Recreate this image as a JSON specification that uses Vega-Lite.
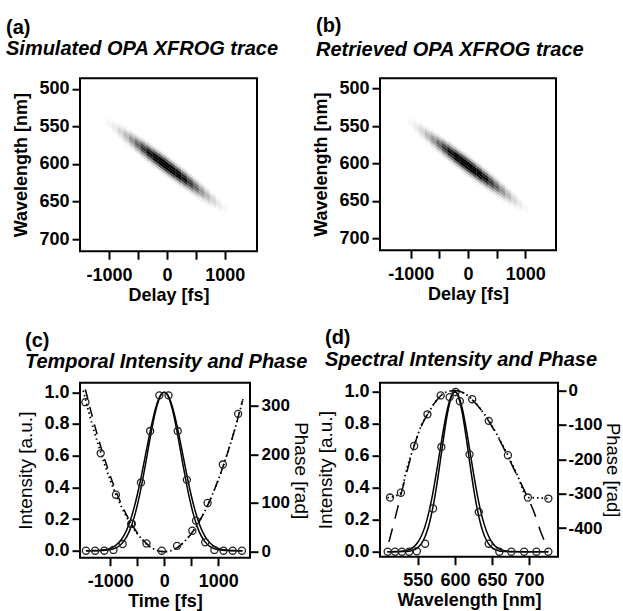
{
"$schema": "https://vega.github.io/schema/vega-lite/v6.json",
"background": "white",
"padding": {"left": 5, "top": 14.2, "right": 0, "bottom": 0},
"columns": 2,
"bounds": "flush",
"align": "all",
"spacing": {"row": 129.5, "column": 122},
"config": {
 "font": "Liberation Sans",
 "view": {"stroke": "black", "strokeWidth": 2},
 "axis": {"domain": false, "grid": false, "tickColor": "black", "tickWidth": 2, "tickSize": 8, "labelFont": "Liberation Sans", "labelFontSize": 18, "labelFontWeight": "bold", "labelColor": "black", "labelPadding": 3, "labelOverlap": false, "labelFlush": false, "labelBound": false, "titleFont": "Liberation Sans", "titleFontSize": 18, "titleFontWeight": "bold", "titleColor": "black"},
 "axisY": {"labelOverlap": false},
 "axisLeft": {"labelOverlap": false},
 "title": {"font": "Liberation Sans", "fontSize": 20, "fontWeight": "bold", "color": "black", "subtitleFont": "Liberation Sans", "subtitleFontSize": 20, "subtitleFontWeight": "bold", "subtitleFontStyle": "italic", "subtitleColor": "black", "anchor": "start", "frame": "group"}
},
"datasets": {
 "trace": [
  {"t":-1100,"w":540.3,"v":0.021},
  {"t":-1000,"w":539,"v":0.020},{"t":-1000,"w":542.5,"v":0.034},{"t":-1000,"w":546,"v":0.041},{"t":-1000,"w":549.5,"v":0.034},{"t":-1000,"w":553,"v":0.020},
  {"t":-900,"w":544.7,"v":0.036},{"t":-900,"w":548.2,"v":0.063},{"t":-900,"w":551.7,"v":0.076},{"t":-900,"w":555.2,"v":0.063},{"t":-900,"w":558.7,"v":0.036},
  {"t":-800,"w":546.9,"v":0.025},{"t":-800,"w":550.4,"v":0.062},{"t":-800,"w":553.9,"v":0.108},{"t":-800,"w":557.4,"v":0.130},{"t":-800,"w":560.9,"v":0.108},{"t":-800,"w":564.4,"v":0.062},{"t":-800,"w":567.9,"v":0.025},
  {"t":-700,"w":552.6,"v":0.040},{"t":-700,"w":556.1,"v":0.101},{"t":-700,"w":559.6,"v":0.175},{"t":-700,"w":563.1,"v":0.210},{"t":-700,"w":566.6,"v":0.175},{"t":-700,"w":570.1,"v":0.101},{"t":-700,"w":573.6,"v":0.040},
  {"t":-600,"w":558.3,"v":0.061},{"t":-600,"w":561.8,"v":0.152},{"t":-600,"w":565.3,"v":0.264},{"t":-600,"w":568.8,"v":0.317},{"t":-600,"w":572.3,"v":0.264},{"t":-600,"w":575.8,"v":0.152},{"t":-600,"w":579.3,"v":0.061},
  {"t":-500,"w":560.5,"v":0.024},{"t":-500,"w":564,"v":0.086},{"t":-500,"w":567.5,"v":0.216},{"t":-500,"w":571,"v":0.375},{"t":-500,"w":574.5,"v":0.451},{"t":-500,"w":578,"v":0.375},{"t":-500,"w":581.5,"v":0.216},{"t":-500,"w":585,"v":0.086},{"t":-500,"w":588.5,"v":0.024},
  {"t":-400,"w":566.2,"v":0.032},{"t":-400,"w":569.7,"v":0.115},{"t":-400,"w":573.2,"v":0.288},{"t":-400,"w":576.7,"v":0.499},{"t":-400,"w":580.2,"v":0.600},{"t":-400,"w":583.7,"v":0.499},{"t":-400,"w":587.2,"v":0.288},{"t":-400,"w":590.7,"v":0.115},{"t":-400,"w":594.2,"v":0.032},
  {"t":-300,"w":571.9,"v":0.040},{"t":-300,"w":575.4,"v":0.143},{"t":-300,"w":578.9,"v":0.360},{"t":-300,"w":582.4,"v":0.625},{"t":-300,"w":585.9,"v":0.751},{"t":-300,"w":589.4,"v":0.625},{"t":-300,"w":592.9,"v":0.360},{"t":-300,"w":596.4,"v":0.143},{"t":-300,"w":599.9,"v":0.040},
  {"t":-200,"w":577.6,"v":0.047},{"t":-200,"w":581.1,"v":0.168},{"t":-200,"w":584.6,"v":0.422},{"t":-200,"w":588.1,"v":0.732},{"t":-200,"w":591.6,"v":0.880},{"t":-200,"w":595.1,"v":0.732},{"t":-200,"w":598.6,"v":0.422},{"t":-200,"w":602.1,"v":0.168},{"t":-200,"w":605.6,"v":0.047},
  {"t":-100,"w":583.3,"v":0.051},{"t":-100,"w":586.8,"v":0.185},{"t":-100,"w":590.3,"v":0.465},{"t":-100,"w":593.8,"v":0.806},{"t":-100,"w":597.3,"v":0.969},{"t":-100,"w":600.8,"v":0.806},{"t":-100,"w":604.3,"v":0.465},{"t":-100,"w":607.8,"v":0.185},{"t":-100,"w":611.3,"v":0.051},
  {"t":0,"w":589,"v":0.053},{"t":0,"w":592.5,"v":0.191},{"t":0,"w":596,"v":0.480},{"t":0,"w":599.5,"v":0.832},{"t":0,"w":603,"v":1},{"t":0,"w":606.5,"v":0.832},{"t":0,"w":610,"v":0.480},{"t":0,"w":613.5,"v":0.191},{"t":0,"w":617,"v":0.053},
  {"t":100,"w":594.7,"v":0.051},{"t":100,"w":598.2,"v":0.185},{"t":100,"w":601.7,"v":0.465},{"t":100,"w":605.2,"v":0.806},{"t":100,"w":608.7,"v":0.969},{"t":100,"w":612.2,"v":0.806},{"t":100,"w":615.7,"v":0.465},{"t":100,"w":619.2,"v":0.185},{"t":100,"w":622.7,"v":0.051},
  {"t":200,"w":600.4,"v":0.047},{"t":200,"w":603.9,"v":0.168},{"t":200,"w":607.4,"v":0.422},{"t":200,"w":610.9,"v":0.732},{"t":200,"w":614.4,"v":0.880},{"t":200,"w":617.9,"v":0.732},{"t":200,"w":621.4,"v":0.422},{"t":200,"w":624.9,"v":0.168},{"t":200,"w":628.4,"v":0.047},
  {"t":300,"w":606.1,"v":0.040},{"t":300,"w":609.6,"v":0.143},{"t":300,"w":613.1,"v":0.360},{"t":300,"w":616.6,"v":0.625},{"t":300,"w":620.1,"v":0.751},{"t":300,"w":623.6,"v":0.625},{"t":300,"w":627.1,"v":0.360},{"t":300,"w":630.6,"v":0.143},{"t":300,"w":634.1,"v":0.040},
  {"t":400,"w":611.8,"v":0.032},{"t":400,"w":615.3,"v":0.115},{"t":400,"w":618.8,"v":0.288},{"t":400,"w":622.3,"v":0.499},{"t":400,"w":625.8,"v":0.600},{"t":400,"w":629.3,"v":0.499},{"t":400,"w":632.8,"v":0.288},{"t":400,"w":636.3,"v":0.115},{"t":400,"w":639.8,"v":0.032},
  {"t":500,"w":617.5,"v":0.024},{"t":500,"w":621,"v":0.086},{"t":500,"w":624.5,"v":0.216},{"t":500,"w":628,"v":0.375},{"t":500,"w":631.5,"v":0.451},{"t":500,"w":635,"v":0.375},{"t":500,"w":638.5,"v":0.216},{"t":500,"w":642,"v":0.086},{"t":500,"w":645.5,"v":0.024},
  {"t":600,"w":626.7,"v":0.061},{"t":600,"w":630.2,"v":0.152},{"t":600,"w":633.7,"v":0.264},{"t":600,"w":637.2,"v":0.317},{"t":600,"w":640.7,"v":0.264},{"t":600,"w":644.2,"v":0.152},{"t":600,"w":647.7,"v":0.061},
  {"t":700,"w":632.4,"v":0.040},{"t":700,"w":635.9,"v":0.101},{"t":700,"w":639.4,"v":0.175},{"t":700,"w":642.9,"v":0.210},{"t":700,"w":646.4,"v":0.175},{"t":700,"w":649.9,"v":0.101},{"t":700,"w":653.4,"v":0.040},
  {"t":800,"w":638.1,"v":0.025},{"t":800,"w":641.6,"v":0.062},{"t":800,"w":645.1,"v":0.108},{"t":800,"w":648.6,"v":0.130},{"t":800,"w":652.1,"v":0.108},{"t":800,"w":655.6,"v":0.062},{"t":800,"w":659.1,"v":0.025},
  {"t":900,"w":647.3,"v":0.036},{"t":900,"w":650.8,"v":0.063},{"t":900,"w":654.3,"v":0.076},{"t":900,"w":657.8,"v":0.063},{"t":900,"w":661.3,"v":0.036},
  {"t":1000,"w":653,"v":0.020},{"t":1000,"w":656.5,"v":0.034},{"t":1000,"w":660,"v":0.041},{"t":1000,"w":663.5,"v":0.034},{"t":1000,"w":667,"v":0.020},
  {"t":1100,"w":665.7,"v":0.021}
 ],
 "c_int": [
  {"s":"sim","t":-1450,"I":0},{"s":"sim","t":-1350,"I":0.0001},{"s":"sim","t":-1250,"I":0.0004},{"s":"sim","t":-1150,"I":0.0013},{"s":"sim","t":-1050,"I":0.0039},{"s":"sim","t":-950,"I":0.0106},{"s":"sim","t":-850,"I":0.0262},{"s":"sim","t":-750,"I":0.0588},{"s":"sim","t":-650,"I":0.119},{"s":"sim","t":-550,"I":0.218},{"s":"sim","t":-450,"I":0.360},{"s":"sim","t":-350,"I":0.539},{"s":"sim","t":-250,"I":0.730},{"s":"sim","t":-150,"I":0.893},{"s":"sim","t":-50,"I":0.9875},{"s":"sim","t":0,"I":1},{"s":"sim","t":50,"I":0.9875},{"s":"sim","t":150,"I":0.893},{"s":"sim","t":250,"I":0.730},{"s":"sim","t":350,"I":0.539},{"s":"sim","t":450,"I":0.360},{"s":"sim","t":550,"I":0.218},{"s":"sim","t":650,"I":0.119},{"s":"sim","t":750,"I":0.0588},{"s":"sim","t":850,"I":0.0262},{"s":"sim","t":950,"I":0.0106},{"s":"sim","t":1050,"I":0.0039},{"s":"sim","t":1150,"I":0.0013},{"s":"sim","t":1250,"I":0.0004},{"s":"sim","t":1350,"I":0.0001},{"s":"sim","t":1450,"I":0},
  {"s":"ret","t":-1450,"I":0.0001},{"s":"ret","t":-1350,"I":0.0005},{"s":"ret","t":-1250,"I":0.0014},{"s":"ret","t":-1150,"I":0.0039},{"s":"ret","t":-1050,"I":0.0097},{"s":"ret","t":-950,"I":0.0226},{"s":"ret","t":-850,"I":0.048},{"s":"ret","t":-750,"I":0.094},{"s":"ret","t":-650,"I":0.169},{"s":"ret","t":-550,"I":0.281},{"s":"ret","t":-450,"I":0.427},{"s":"ret","t":-350,"I":0.598},{"s":"ret","t":-250,"I":0.769},{"s":"ret","t":-150,"I":0.910},{"s":"ret","t":-50,"I":0.9896},{"s":"ret","t":0,"I":1},{"s":"ret","t":50,"I":0.9896},{"s":"ret","t":150,"I":0.910},{"s":"ret","t":250,"I":0.769},{"s":"ret","t":350,"I":0.598},{"s":"ret","t":450,"I":0.427},{"s":"ret","t":550,"I":0.281},{"s":"ret","t":650,"I":0.169},{"s":"ret","t":750,"I":0.094},{"s":"ret","t":850,"I":0.048},{"s":"ret","t":950,"I":0.0226},{"s":"ret","t":1050,"I":0.0097},{"s":"ret","t":1150,"I":0.0039},{"s":"ret","t":1250,"I":0.0014},{"s":"ret","t":1350,"I":0.0005},{"s":"ret","t":1450,"I":0.0001}
 ],
 "c_int_pts": [
  {"t":-1450,"I":0},{"t":-1280,"I":0},{"t":-1110,"I":0},{"t":-940,"I":0.005},{"t":-770,"I":0.042},{"t":-600,"I":0.17},{"t":-430,"I":0.43},{"t":-260,"I":0.755},{"t":-90,"I":0.98},{"t":80,"I":0.98},{"t":250,"I":0.755},{"t":420,"I":0.447},{"t":590,"I":0.19},{"t":760,"I":0.053},{"t":930,"I":0.005},{"t":1100,"I":0},{"t":1270,"I":0},{"t":1440,"I":0}
 ],
 "c_ph_sim": [
  {"t":-1500,"p":331},{"t":-1400,"p":288},{"t":-1300,"p":248},{"t":-1200,"p":212},{"t":-1100,"p":178},{"t":-1000,"p":147},{"t":-900,"p":119},{"t":-800,"p":94},{"t":-700,"p":72},{"t":-600,"p":53},{"t":-500,"p":37},{"t":-400,"p":24},{"t":-300,"p":13},{"t":-200,"p":6},{"t":-100,"p":1.5},{"t":0,"p":0},{"t":100,"p":1.5},{"t":200,"p":6},{"t":300,"p":13},{"t":400,"p":24},{"t":500,"p":37},{"t":600,"p":53},{"t":700,"p":72},{"t":800,"p":94},{"t":900,"p":119},{"t":1000,"p":147},{"t":1100,"p":178},{"t":1200,"p":212},{"t":1300,"p":248},{"t":1400,"p":288},{"t":1460,"p":313}
 ],
 "c_ph_ret": [
  {"t":-1460,"p":333},{"t":-1300,"p":264},{"t":-1100,"p":189},{"t":-900,"p":126},{"t":-700,"p":76},{"t":-500,"p":39},{"t":-300,"p":14},{"t":-100,"p":1.6},{"t":0,"p":0},{"t":100,"p":1.5},{"t":300,"p":13},{"t":500,"p":37},{"t":700,"p":72},{"t":900,"p":119},{"t":1100,"p":178},{"t":1300,"p":248},{"t":1450,"p":310}
 ],
 "c_ph_pts": [
  {"t":-1460,"p":307},{"t":-1177,"p":202},{"t":-894,"p":117},{"t":-611,"p":57},{"t":-328,"p":17},{"t":-45,"p":2},{"t":238,"p":12},{"t":521,"p":43},{"t":804,"p":100},{"t":1087,"p":179},{"t":1370,"p":283}
 ],
 "d_int": [
  {"s":"sim","l":509,"I":0},{"s":"sim","l":520,"I":0},{"s":"sim","l":530,"I":0.0008},{"s":"sim","l":535,"I":0.0021},{"s":"sim","l":540,"I":0.0052},{"s":"sim","l":545,"I":0.012},{"s":"sim","l":550,"I":0.026},{"s":"sim","l":555,"I":0.052},{"s":"sim","l":560,"I":0.097},{"s":"sim","l":565,"I":0.167},{"s":"sim","l":570,"I":0.269},{"s":"sim","l":575,"I":0.401},{"s":"sim","l":580,"I":0.557},{"s":"sim","l":585,"I":0.720},{"s":"sim","l":590,"I":0.864},{"s":"sim","l":595,"I":0.964},{"s":"sim","l":600,"I":1},{"s":"sim","l":605,"I":0.964},{"s":"sim","l":610,"I":0.864},{"s":"sim","l":615,"I":0.720},{"s":"sim","l":620,"I":0.557},{"s":"sim","l":625,"I":0.401},{"s":"sim","l":630,"I":0.269},{"s":"sim","l":635,"I":0.167},{"s":"sim","l":640,"I":0.097},{"s":"sim","l":645,"I":0.052},{"s":"sim","l":650,"I":0.026},{"s":"sim","l":655,"I":0.012},{"s":"sim","l":660,"I":0.0052},{"s":"sim","l":665,"I":0.0021},{"s":"sim","l":670,"I":0.0008},{"s":"sim","l":680,"I":0},{"s":"sim","l":726,"I":0},
  {"s":"ret","l":509,"I":0},{"s":"ret","l":515,"I":0.0001},{"s":"ret","l":520,"I":0.0007},{"s":"ret","l":525,"I":0.0017},{"s":"ret","l":530,"I":0.0039},{"s":"ret","l":535,"I":0.0083},{"s":"ret","l":540,"I":0.017},{"s":"ret","l":545,"I":0.032},{"s":"ret","l":550,"I":0.059},{"s":"ret","l":555,"I":0.101},{"s":"ret","l":560,"I":0.163},{"s":"ret","l":565,"I":0.249},{"s":"ret","l":570,"I":0.360},{"s":"ret","l":575,"I":0.492},{"s":"ret","l":580,"I":0.635},{"s":"ret","l":585,"I":0.775},{"s":"ret","l":590,"I":0.893},{"s":"ret","l":595,"I":0.972},{"s":"ret","l":600,"I":1},{"s":"ret","l":605,"I":0.972},{"s":"ret","l":610,"I":0.893},{"s":"ret","l":615,"I":0.775},{"s":"ret","l":620,"I":0.635},{"s":"ret","l":625,"I":0.492},{"s":"ret","l":630,"I":0.360},{"s":"ret","l":635,"I":0.249},{"s":"ret","l":640,"I":0.163},{"s":"ret","l":645,"I":0.101},{"s":"ret","l":650,"I":0.059},{"s":"ret","l":655,"I":0.032},{"s":"ret","l":660,"I":0.017},{"s":"ret","l":665,"I":0.0083},{"s":"ret","l":670,"I":0.0039},{"s":"ret","l":675,"I":0.0017},{"s":"ret","l":680,"I":0.0007},{"s":"ret","l":690,"I":0},{"s":"ret","l":726,"I":0}
 ],
 "d_int_pts": [
  {"l":509.4,"I":0},{"l":519.2,"I":0},{"l":528.6,"I":0},{"l":538.3,"I":0},{"l":548.7,"I":0.003},{"l":559.8,"I":0.05},{"l":570.5,"I":0.27},{"l":581.7,"I":0.654},{"l":592.9,"I":0.966},{"l":600.9,"I":0.998},{"l":606.7,"I":0.94},{"l":619.7,"I":0.608},{"l":632.2,"I":0.248},{"l":645.6,"I":0.05},{"l":659.9,"I":0},{"l":676,"I":0},{"l":693.4,"I":0},{"l":709.9,"I":0},{"l":726,"I":0}
 ],
 "d_ph_sim": [
  {"l":509,"p":-312},{"l":512.5,"p":-311},{"l":520,"p":-306},{"l":527,"p":-297},{"l":535,"p":-228},{"l":545,"p":-161},{"l":555,"p":-100},{"l":563,"p":-69},{"l":572,"p":-38},{"l":581,"p":-14},{"l":590,"p":-3},{"l":600,"p":0},{"l":611,"p":-6},{"l":623,"p":-25},{"l":635,"p":-55},{"l":646,"p":-88},{"l":658,"p":-133},{"l":671.5,"p":-188},{"l":685,"p":-250},{"l":698,"p":-311},{"l":712,"p":-312},{"l":726,"p":-314}
 ],
 "d_ph_ret": [
  {"l":511,"p":-440},{"l":519,"p":-374},{"l":527,"p":-305},{"l":536,"p":-230},{"l":545,"p":-161},{"l":555,"p":-102},{"l":563,"p":-69},{"l":572,"p":-38},{"l":581,"p":-15},{"l":590,"p":-3},{"l":600,"p":0},{"l":611,"p":-6},{"l":623,"p":-26},{"l":635,"p":-55},{"l":646,"p":-90},{"l":658,"p":-135},{"l":671,"p":-190},{"l":684,"p":-248},{"l":697,"p":-306},{"l":707,"p":-355},{"l":717,"p":-418},{"l":726,"p":-461}
 ],
 "d_ph_pts": [
  {"l":512.5,"p":-311},{"l":527.2,"p":-297},{"l":545,"p":-161},{"l":563,"p":-69},{"l":580.8,"p":-14},{"l":623.3,"p":-25},{"l":645.6,"p":-88},{"l":671.5,"p":-188},{"l":698.4,"p":-311},{"l":726,"p":-314}
 ]
},
"concat": [
 {
  "width": 177, "height": 173,
  "title": {"text": "\u00a0\u00a0(a)", "subtitle": "Simulated OPA XFROG trace", "dx": -74, "offset": 19.5, "subtitlePadding": 1},
  "data": {"name": "trace"},
  "mark": {"type": "point", "shape": "M-1.03,-1.243L1.03,0.283L1.03,1.243L-1.03,-0.283Z", "filled": true, "size": 33.6, "opacity": 1, "strokeWidth": 0},
  "encoding": {
   "x": {"field": "t", "type": "quantitative", "scale": {"domain": [-1500, 1555], "nice": false, "zero": false}, "axis": {"values": [-1000, -500, 0, 500, 1000], "labelOverlap": false, "labelExpr": "datum.value % 1000 == 0 ? (datum.value < 0 ? '-' + abs(datum.value) : '' + datum.value) : ''", "title": "Delay [fs]", "labelPadding": 7, "titlePadding": 2}},
   "y": {"field": "w", "type": "quantitative", "scale": {"domain": [486, 716], "reverse": true, "nice": false, "zero": false}, "axis": {"values": [500, 550, 600, 650, 700], "labelOverlap": false, "title": "Wavelength [nm]", "titlePadding": 8}},
   "color": {"field": "v", "type": "quantitative", "scale": {"domain": [0.02, 0.75], "range": ["#ffffff", "#000000"], "clamp": true}, "legend": null}
  }
 },
 {
  "width": 176, "height": 172,
  "title": {"text": "\u00a0\u00a0(b)", "subtitle": "Retrieved OPA XFROG trace", "dx": -64, "offset": 18, "subtitlePadding": 4.3},
  "data": {"name": "trace"},
  "mark": {"type": "point", "shape": "M-1.03,-1.243L1.03,0.283L1.03,1.243L-1.03,-0.283Z", "filled": true, "size": 33.6, "opacity": 1, "strokeWidth": 0},
  "encoding": {
   "x": {"field": "t", "type": "quantitative", "scale": {"domain": [-1535, 1535], "nice": false, "zero": false}, "axis": {"values": [-1000, -500, 0, 500, 1000], "labelOverlap": false, "labelExpr": "datum.value % 1000 == 0 ? (datum.value < 0 ? '-' + abs(datum.value) : '' + datum.value) : ''", "title": "Delay [fs]", "labelPadding": 7, "titlePadding": 2}},
   "y": {"field": "w", "type": "quantitative", "scale": {"domain": [486, 716], "reverse": true, "nice": false, "zero": false}, "axis": {"values": [500, 550, 600, 650, 700], "labelOverlap": false, "title": "Wavelength [nm]", "titlePadding": 8}},
   "color": {"field": "v", "type": "quantitative", "scale": {"domain": [0.02, 0.75], "range": ["#ffffff", "#000000"], "clamp": true}, "legend": null}
  }
 },
 {
  "width": 170, "height": 175,
  "title": {"text": "(c)", "subtitle": "\u00a0Temporal Intensity and Phase", "dx": -55, "offset": 10.5, "subtitlePadding": 1},
  "layer": [
   {"layer": [
    {"data": {"name": "c_int"}, "mark": {"type": "line", "color": "black", "strokeWidth": 1.5, "interpolate": "monotone"},
     "encoding": {
      "x": {"field": "t", "type": "quantitative", "scale": {"domain": [-1560, 1590], "nice": false, "zero": false}, "axis": {"values": [-1000, -500, 0, 500, 1000], "labelOverlap": false, "labelExpr": "datum.value % 1000 == 0 ? (datum.value < 0 ? '-' + abs(datum.value) : '' + datum.value) : ''", "title": "Time [fs]", "labelPadding": 7, "titlePadding": 2}},
      "y": {"field": "I", "type": "quantitative", "scale": {"domain": [-0.044, 1.06], "nice": false, "zero": false}, "axis": {"values": [0, 0.2, 0.4, 0.6, 0.8, 1], "labelOverlap": false, "labelSeparation": 0, "labelExpr": "format(datum.value, '.1f')", "title": "Intensity [a.u.]", "titleFontWeight": "normal", "titleFontSize": 19, "titlePadding": 8}},
      "detail": {"field": "s", "type": "nominal"}
     }},
    {"data": {"name": "c_int_pts"}, "mark": {"type": "point", "shape": "circle", "filled": false, "color": "#222222", "size": 50, "strokeWidth": 1.3, "opacity": 1},
     "encoding": {
      "x": {"field": "t", "type": "quantitative"},
      "y": {"field": "I", "type": "quantitative", "axis": {"values": [0, 0.2, 0.4, 0.6, 0.8, 1], "labelOverlap": false, "labelSeparation": 0, "labelExpr": "format(datum.value, '.1f')", "title": "Intensity [a.u.]", "titleFontWeight": "normal", "titleFontSize": 19, "titlePadding": 8}}
     }}
   ]},
   {"layer": [
    {"data": {"name": "c_ph_sim"}, "mark": {"type": "line", "color": "black", "strokeWidth": 1.8, "strokeDash": [1.5, 3], "interpolate": "monotone"},
     "encoding": {
      "x": {"field": "t", "type": "quantitative"},
      "y": {"field": "p", "type": "quantitative", "scale": {"domain": [-12.3, 347], "nice": false, "zero": false}, "axis": {"orient": "right", "values": [0, 50, 100, 150, 200, 250, 300], "labelOverlap": false, "labelFontSize": 17, "labelExpr": "datum.value % 100 == 0 ? datum.label : ''", "title": "Phase [rad]", "titleFontWeight": "normal", "titleFontSize": 19, "titlePadding": 1}}
     }},
    {"data": {"name": "c_ph_ret"}, "mark": {"type": "line", "color": "black", "strokeWidth": 1.5, "strokeDash": [10, 8], "interpolate": "monotone"},
     "encoding": {
      "x": {"field": "t", "type": "quantitative"},
      "y": {"field": "p", "type": "quantitative"}
     }},
    {"data": {"name": "c_ph_pts"}, "mark": {"type": "point", "shape": "circle", "filled": false, "color": "#222222", "size": 50, "strokeWidth": 1.3, "opacity": 1},
     "encoding": {
      "x": {"field": "t", "type": "quantitative"},
      "y": {"field": "p", "type": "quantitative"}
     }}
   ]}
  ],
  "resolve": {"scale": {"y": "independent"}}
 },
 {
  "width": 178, "height": 174,
  "title": {"text": "\u00a0\u00a0(d)", "subtitle": "Spectral Intensity and Phase", "dx": -55, "offset": 11.5, "subtitlePadding": 2.5},
  "layer": [
   {"layer": [
    {"data": {"name": "d_int"}, "mark": {"type": "line", "color": "black", "strokeWidth": 1.5, "interpolate": "monotone"},
     "encoding": {
      "x": {"field": "l", "type": "quantitative", "scale": {"domain": [499, 739], "nice": false, "zero": false}, "axis": {"values": [550, 600, 650, 700], "labelOverlap": false, "title": "Wavelength [nm]", "labelPadding": 7, "titlePadding": 2}},
      "y": {"field": "I", "type": "quantitative", "scale": {"domain": [-0.031, 1.056], "nice": false, "zero": false}, "axis": {"values": [0, 0.2, 0.4, 0.6, 0.8, 1], "labelOverlap": false, "labelSeparation": 0, "labelExpr": "format(datum.value, '.1f')", "title": "Intensity [a.u.]", "titleFontWeight": "normal", "titleFontSize": 19, "titlePadding": 8}},
      "detail": {"field": "s", "type": "nominal"}
     }},
    {"data": {"name": "d_int_pts"}, "mark": {"type": "point", "shape": "circle", "filled": false, "color": "#222222", "size": 50, "strokeWidth": 1.3, "opacity": 1},
     "encoding": {
      "x": {"field": "l", "type": "quantitative"},
      "y": {"field": "I", "type": "quantitative", "axis": {"values": [0, 0.2, 0.4, 0.6, 0.8, 1], "labelOverlap": false, "labelSeparation": 0, "labelExpr": "format(datum.value, '.1f')", "title": "Intensity [a.u.]", "titleFontWeight": "normal", "titleFontSize": 19, "titlePadding": 8}}
     }}
   ]},
   {"layer": [
    {"data": {"name": "d_ph_sim"}, "mark": {"type": "line", "color": "black", "strokeWidth": 1.8, "strokeDash": [1.5, 3], "interpolate": "monotone"},
     "encoding": {
      "x": {"field": "l", "type": "quantitative"},
      "y": {"field": "p", "type": "quantitative", "scale": {"domain": [-483, 23], "nice": false, "zero": false}, "axis": {"orient": "right", "values": [0, -100, -200, -300, -400], "labelOverlap": false, "labelFontSize": 17, "labelPadding": 2, "labelExpr": "datum.value < 0 ? '-' + abs(datum.value) : '' + datum.value", "title": "Phase [rad]", "titleFontWeight": "normal", "titleFontSize": 18.5, "titlePadding": 0}}
     }},
    {"data": {"name": "d_ph_ret"}, "mark": {"type": "line", "color": "black", "strokeWidth": 1.5, "strokeDash": [14, 10], "interpolate": "monotone"},
     "encoding": {
      "x": {"field": "l", "type": "quantitative"},
      "y": {"field": "p", "type": "quantitative"}
     }},
    {"data": {"name": "d_ph_pts"}, "mark": {"type": "point", "shape": "circle", "filled": false, "color": "#222222", "size": 50, "strokeWidth": 1.3, "opacity": 1},
     "encoding": {
      "x": {"field": "l", "type": "quantitative"},
      "y": {"field": "p", "type": "quantitative"}
     }}
   ]}
  ],
  "resolve": {"scale": {"y": "independent"}}
 }
]
}
